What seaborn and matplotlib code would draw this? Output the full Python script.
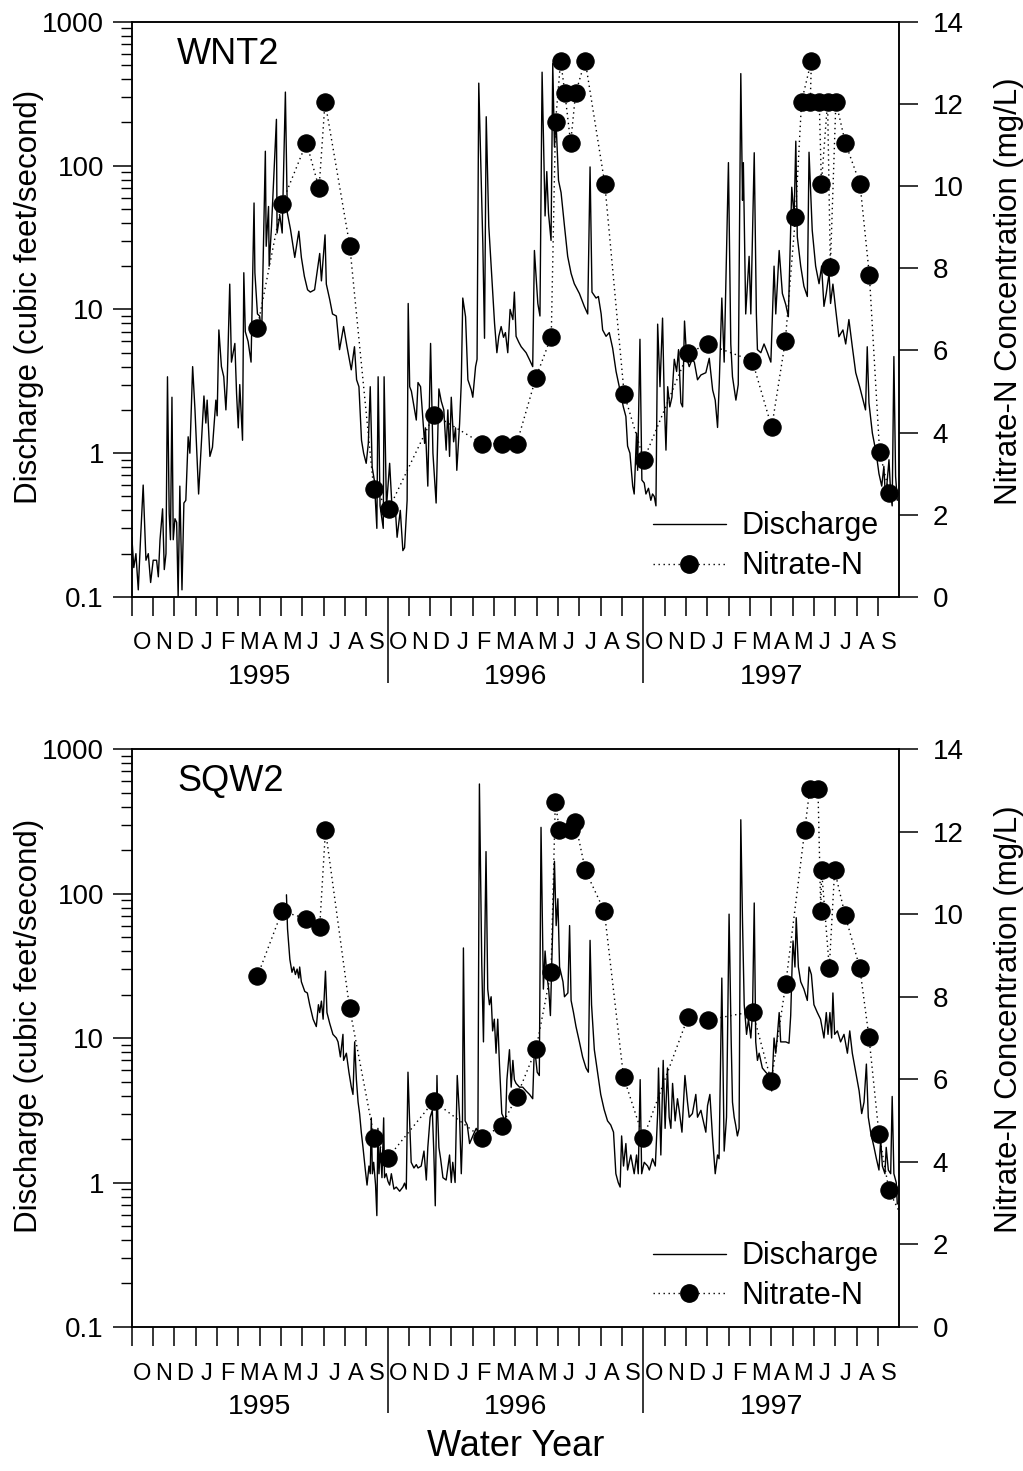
import matplotlib
matplotlib.use("Agg")
import numpy as np
import pandas as pd
import matplotlib.pyplot as plt
import seaborn as sns
from matplotlib.lines import Line2D
from matplotlib.ticker import LogLocator, NullFormatter, FixedLocator

# ---------------- data (x = months since 1 Oct 1994, start of WY1995) -------------
wnt2_q_month = [0.01,0.10,0.20,0.31,0.42,0.54,0.67,0.78,0.89,1.01,1.17,1.25,1.33,1.45,1.53,1.61,1.68,1.76,1.82,1.89,1.95,2.03,2.11,2.18,2.26,2.36,2.45,2.54,2.65,2.73,2.86,2.97,3.14,3.39,3.48,3.54,3.67,3.79,3.95,4.01,4.09,4.21,4.32,4.42,4.48,4.60,4.68,4.84,4.92,5.00,5.07,5.20,5.26,5.33,5.46,5.60,5.74,5.78,5.90,6.00,6.10,6.27,6.31,6.42,6.45,6.56,6.79,6.82,6.95,7.06,7.21,7.30,7.45,7.65,7.84,7.96,8.10,8.25,8.38,8.58,8.82,8.90,9.07,9.13,9.29,9.42,9.60,9.75,9.94,10.10,10.30,10.45,10.55,10.66,10.78,10.88,11.00,11.10,11.19,11.28,11.38,11.50,11.56,11.65,11.80,11.84,11.95,12.10,12.20,12.38,12.45,12.60,12.72,12.80,12.92,12.97,13.04,13.12,13.19,13.35,13.43,13.55,13.74,13.78,13.89,14.02,14.13,14.28,14.41,14.52,14.64,14.75,14.83,14.91,14.99,15.10,15.19,15.25,15.38,15.46,15.53,15.66,15.77,15.93,16.00,16.13,16.20,16.28,16.47,16.55,16.63,16.75,16.86,17.02,17.13,17.22,17.33,17.44,17.53,17.64,17.75,17.88,17.95,18.03,18.16,18.27,18.38,18.50,18.66,18.81,18.89,19.05,19.15,19.25,19.39,19.47,19.55,19.67,19.75,19.83,19.90,20.02,20.14,20.30,20.45,20.61,20.76,21.00,21.23,21.39,21.50,21.59,21.78,21.89,22.02,22.09,22.25,22.40,22.56,22.72,22.87,23.06,23.18,23.26,23.37,23.50,23.57,23.68,23.73,23.84,23.93,24.04,24.12,24.24,24.35,24.43,24.51,24.59,24.67,24.78,24.90,24.98,25.06,25.14,25.24,25.34,25.45,25.56,25.65,25.76,25.84,25.93,26.03,26.15,26.28,26.39,26.54,26.70,26.93,27.09,27.25,27.37,27.48,27.56,27.68,27.79,27.99,28.10,28.18,28.34,28.45,28.57,28.65,28.69,28.80,28.96,29.04,29.20,29.30,29.35,29.51,29.66,29.82,29.98,30.13,30.21,30.37,30.52,30.68,30.80,30.96,31.07,31.15,31.22,31.38,31.53,31.69,31.77,31.92,32.08,32.24,32.36,32.47,32.58,32.71,32.78,32.89,33.02,33.17,33.36,33.49,33.64,33.80,33.96,34.15,34.27,34.42,34.50,34.58,34.74,34.92,35.05,35.18,35.28,35.36,35.52,35.60,35.67,35.75,35.83,35.91]
wnt2_q_cfs = [0.26,0.16,0.20,0.112,0.26,0.60,0.18,0.20,0.126,0.18,0.18,0.138,0.25,0.41,0.155,0.20,3.4,0.38,0.25,2.45,0.25,0.35,0.33,0.10,0.59,0.112,0.45,0.47,1.3,1.0,4.0,2.0,0.52,2.5,1.62,2.34,0.95,1.1,2.34,1.82,7.2,4.0,3.4,2.0,3.1,15,4.3,5.8,2.6,1.5,3.0,1.23,18,7.0,6.0,4.3,55,18,9.3,9.0,7.0,126,27.5,52,20,38,210,34,45,34,325,47,36,23,35,23,17,13.7,13.2,13.7,24.5,15.8,33,15,11.7,9.3,9.0,5.25,7.6,5.5,3.8,5.5,3.24,2.9,1.23,1.0,0.85,1.17,2.9,0.8,0.65,0.30,3.4,0.43,0.30,3.4,0.42,0.85,0.45,0.38,0.26,0.40,0.21,0.22,0.47,11,2.9,2.7,2.34,1.7,3.1,2.9,1.17,1.5,0.59,5.8,1.0,0.45,2.8,2.3,2.0,1.05,2.0,0.95,2.45,1.2,1.5,0.76,1.6,3.1,12,8.9,3.24,2.75,2.45,4.0,4.5,375,28.8,6.3,219,38,20,8.0,5.0,6.5,7.6,6.4,6.9,5.0,10,8.5,13.2,6.5,5.9,5.5,5.25,5.0,4.47,4.0,25.7,11,9.0,447,44.7,91,46.8,30.2,513,135,209,79,65,38,23.4,17.8,15.1,12.9,10.5,9.3,98,13.2,12,12.3,9.3,7.2,6.5,6.9,5.37,3.7,2.9,2.1,1.8,1.12,1.0,0.59,0.52,1.38,0.76,6.2,0.65,0.62,0.52,0.57,0.47,0.52,0.50,0.43,7.9,2.9,8.7,2.34,1.05,2.9,2.1,2.45,4.5,3.7,5.25,2.24,2.1,8.3,4.6,4.0,4.47,4.3,3.24,3.5,3.63,4.57,2.75,2.34,1.51,3.1,12,4.3,105,5.75,3.4,2.34,3.0,437,57.5,105,9.3,23.4,9.3,123,9.3,5.25,5.0,5.75,5.0,4.3,20,9.3,25.7,12.9,10.8,8.9,70.8,44,148,32,20,14.5,12.3,124,35.5,20,15.1,20,10.5,13,17.8,11,15,10,6.46,7.2,5.75,8.5,5.5,3.63,2.88,2.45,2.0,5.5,2.24,1.38,1.0,0.72,0.59,0.81,0.47,0.9,0.52,0.43,4.7,0.69,0.47]

wnt2_n_month = [5.89,7.03,8.20,8.79,9.07,10.23,11.35,12.06,14.18,16.45,17.35,18.06,18.96,19.68,19.88,20.12,20.32,20.59,20.82,21.27,22.19,23.10,24.02,26.10,27.05,29.11,30.02,30.66,31.13,31.42,31.88,31.83,32.25,32.35,32.64,32.77,33.03,33.47,34.16,34.60,35.08,35.53]
wnt2_n_mgl = [6.54,9.56,11.06,9.95,12.06,8.55,2.64,2.14,4.44,3.73,3.73,3.73,5.34,6.34,11.56,13.06,12.26,11.05,12.26,13.06,10.06,4.94,3.34,5.95,6.15,5.75,4.13,6.24,9.24,12.06,13.06,12.06,12.06,10.06,12.06,8.04,12.06,11.06,10.06,7.84,3.54,2.54]

sqw2_q_month = [7.26,7.31,7.42,7.52,7.60,7.68,7.76,7.84,7.88,7.96,8.12,8.24,8.35,8.51,8.66,8.76,8.82,8.90,8.98,9.09,9.16,9.29,9.44,9.60,9.68,9.79,9.91,9.94,10.07,10.19,10.30,10.38,10.46,10.54,10.62,10.69,10.77,10.85,10.96,11.04,11.13,11.19,11.24,11.29,11.35,11.44,11.50,11.55,11.60,11.66,11.74,11.82,11.86,11.94,12.02,12.10,12.18,12.30,12.41,12.57,12.72,12.80,12.88,12.96,13.03,13.11,13.24,13.35,13.43,13.58,13.71,13.82,13.89,14.00,14.10,14.17,14.24,14.32,14.36,14.41,14.49,14.60,14.75,14.91,14.99,15.06,15.17,15.27,15.38,15.46,15.51,15.56,15.64,15.74,15.85,16.00,16.16,16.24,16.31,16.42,16.50,16.62,16.70,16.78,16.86,16.93,17.01,17.09,17.17,17.25,17.36,17.44,17.52,17.60,17.72,17.80,17.88,17.95,18.03,18.19,18.34,18.50,18.66,18.81,18.89,19.02,19.12,19.20,19.31,19.39,19.47,19.56,19.64,19.72,19.83,19.91,19.99,20.07,20.23,20.30,20.46,20.54,20.61,20.72,20.84,21.00,21.15,21.31,21.42,21.50,21.57,21.70,21.85,22.00,22.16,22.32,22.47,22.60,22.71,22.82,22.91,22.98,23.07,23.18,23.26,23.41,23.57,23.68,23.76,23.85,23.92,24.04,24.20,24.28,24.43,24.56,24.67,24.71,24.82,24.93,25.02,25.13,25.21,25.29,25.37,25.49,25.60,25.68,25.81,25.95,26.07,26.15,26.30,26.46,26.54,26.70,26.77,26.93,27.01,27.12,27.24,27.37,27.48,27.55,27.68,27.79,27.90,28.02,28.12,28.18,28.26,28.33,28.41,28.49,28.57,28.65,28.73,28.84,28.93,29.04,29.12,29.20,29.27,29.35,29.43,29.58,29.74,29.90,30.02,30.13,30.21,30.29,30.37,30.44,30.52,30.68,30.83,30.91,30.99,31.02,31.11,31.17,31.27,31.38,31.53,31.69,31.77,31.88,32.00,32.16,32.31,32.47,32.58,32.66,32.75,32.83,32.89,32.97,33.10,33.25,33.41,33.57,33.68,33.80,33.96,34.12,34.24,34.35,34.46,34.55,34.66,34.82,34.93,35.05,35.13,35.21,35.33,35.39,35.49,35.60,35.67,35.75,35.86,35.91]
sqw2_q_cfs = [98,57,35,28.5,31,27.5,30,26,31,24.5,21,20.5,17,13.5,12,17,15,18,13.5,29,15,12.6,10.6,10,9.4,7.4,10.6,7.0,7.85,5.8,4.6,4.07,9.4,5.15,3.6,3.0,2.23,1.75,1.22,0.96,1.3,1.15,2.8,1.15,1.38,0.96,0.59,2.37,1.15,1.75,1.08,2.8,1.08,1.15,1.02,0.96,1.15,0.9,0.93,0.87,0.93,0.99,0.9,5.8,2.83,1.38,1.26,1.33,1.26,1.3,1.65,1.04,1.75,2.83,3.16,1.65,0.69,5.5,2.83,1.75,1.46,1.08,1.04,1.55,1.0,1.38,1.0,5.5,2.83,1.15,1.98,42,2.67,2.5,1.86,2.1,2.37,2.23,573,33,9.4,195,21.8,17,19.3,11.2,13.5,7.85,13.5,6.6,3.0,2.83,2.23,5.15,8.3,4.57,7.0,5.15,4.85,4.57,4.57,4.3,4.07,3.8,8.85,5.8,5.5,287,21.8,40,27.5,21.8,14.3,40,167,60,92,31,24.5,19.3,20.5,60,18.2,15.1,12,9.4,7.4,6.2,5.8,47.4,17,8.3,5.8,4.07,3.2,2.67,2.5,2.23,1.15,1.0,0.93,2.1,1.3,1.86,1.22,1.55,1.15,1.55,1.15,5.15,1.15,1.38,1.3,1.22,1.46,1.3,3.0,6.2,1.55,7.0,2.37,6.2,2.83,2.37,4.85,2.67,3.8,3.16,2.23,5.5,3.6,2.83,3.0,4.07,2.83,3.16,2.83,2.23,3.4,4.07,2.1,1.15,1.55,1.46,26,1.65,2.83,72,9.4,3.6,2.83,2.5,2.1,2.37,324,64,17,10.6,13.5,10,15,86,9.4,7.0,7.85,6.2,5.8,5.5,4.3,10,7.85,10.6,15,9.4,9.4,9.4,9.2,14.3,37,47,31,68,31,24.5,21.8,18.2,31,27.5,17,15,13.5,10,15,10.6,15,10,20.5,10.6,11.2,9.4,10.6,7.85,11.2,7.85,5.8,4.3,3.0,3.6,6.6,2.83,2.23,1.75,1.46,1.22,1.98,1.3,1.15,1.75,1.22,1.15,3.94,1.15,1.0,0.71]

sqw2_n_month = [5.90,7.05,8.20,8.82,9.09,10.22,11.38,12.02,14.17,16.44,17.36,18.05,18.97,19.67,19.87,20.06,20.61,20.80,21.28,22.17,23.07,24.00,26.10,27.04,29.12,30.00,30.68,31.57,31.80,32.19,32.32,32.36,32.72,32.97,33.46,34.15,34.58,35.05,35.52,36.60]
sqw2_n_mgl = [8.50,10.07,9.89,9.69,12.04,7.73,4.58,4.10,5.47,4.58,4.88,5.57,6.74,8.61,12.72,12.04,12.04,12.24,11.06,10.07,6.06,4.58,7.52,7.44,7.64,5.95,8.32,12.04,13.02,13.02,10.08,11.06,8.70,11.06,9.98,8.70,7.03,4.67,3.31,2.15]

month_letters = ["O", "N", "D", "J", "F", "M", "A", "M", "J", "J", "A", "S"]
water_years = ["1995", "1996", "1997"]
decade_ticks = [0.1, 1, 10, 100, 1000]
decade_labels = ["0.1", "1", "10", "100", "1000"]
nitrate_ticks = [0, 2, 4, 6, 8, 10, 12, 14]

# ---------------- style -------------
sns.set_theme(style="ticks")
plt.rcParams["font.family"] = ["Liberation Sans", "DejaVu Sans"]
plt.rcParams["axes.edgecolor"] = "black"
plt.rcParams["xtick.color"] = "black"
plt.rcParams["ytick.color"] = "black"
plt.rcParams["text.color"] = "black"
plt.rcParams["axes.labelcolor"] = "black"

DOT = (0, (1.0, 2.6))

fig = plt.figure(figsize=(10.23, 14.71), dpi=100)
ax_top = fig.add_axes([0.1287, 0.5942, 0.7503, 0.3909])
ax_bot = fig.add_axes([0.1287, 0.0979, 0.7503, 0.3929])


def panel(ax, qm, qv, nm, nv, name):
    dq = pd.DataFrame({"month": qm, "discharge": qv})
    dn = pd.DataFrame({"month": nm, "nitrate": nv})
    sns.lineplot(data=dq, x="month", y="discharge", ax=ax, color="black",
                 linewidth=1.0, sort=False, estimator=None)
    ax.set_yscale("log")
    ax.set_ylim(0.1, 1000)
    ax.set_xlim(0, 36)
    ax2 = ax.twinx()
    sns.lineplot(data=dn, x="month", y="nitrate", ax=ax2, color="black",
                 linewidth=1.0, linestyle=DOT, marker="o", markersize=12.5,
                 markerfacecolor="black", markeredgecolor="black",
                 sort=False, estimator=None)
    ax2.set_ylim(0, 14)
    ax2.set_xlim(0, 36)

    for a in (ax, ax2):
        for s in a.spines.values():
            s.set_linewidth(1.1)
            s.set_color("black")

    # left log axis
    ax.yaxis.set_major_locator(FixedLocator(decade_ticks))
    ax.set_yticklabels(decade_labels)
    ax.yaxis.set_minor_locator(LogLocator(base=10, subs=np.arange(2, 10)))
    ax.yaxis.set_minor_formatter(NullFormatter())
    ax.tick_params(axis="y", which="major", direction="out", length=14, width=1.1,
                   labelsize=20, pad=6)
    ax.tick_params(axis="y", which="minor", direction="out", length=8, width=1.0)
    ax.set_ylabel("Discharge (cubic feet/second)", fontsize=22.5)
    ax.yaxis.set_label_coords(-0.114, 0.521)

    # right nitrate axis
    ax2.set_yticks(nitrate_ticks)
    ax2.set_yticklabels([str(t) for t in nitrate_ticks])
    ax2.tick_params(axis="y", which="major", direction="out", length=14, width=1.1,
                    labelsize=20, pad=10)
    ax2.set_ylabel("Nitrate-N Concentration (mg/L)", fontsize=22.5)
    ax2.yaxis.set_label_coords(1.124, 0.532)

    # x axis: month ticks, long water-year dividers
    ax.set_xticks([12, 24])
    ax.set_xticks([m for m in range(36) if m not in (12, 24)], minor=True)
    ax.xaxis.set_major_formatter(NullFormatter())
    ax.xaxis.set_minor_formatter(NullFormatter())
    ax.tick_params(axis="x", which="major", direction="out", length=62, width=1.1)
    ax.tick_params(axis="x", which="minor", direction="out", length=13.7, width=1.1)
    ax.set_xlabel("")
    ax2.tick_params(axis="x", which="both", length=0)

    for i in range(36):
        ax.annotate(month_letters[i % 12], xy=(i + 0.5, 0),
                    xycoords=("data", "axes fraction"), xytext=(0, -33.5),
                    textcoords="offset points", ha="center", va="center",
                    fontsize=17)
    for k, yr in enumerate(water_years):
        ax.annotate(yr, xy=(12 * k + 6, 0), xycoords=("data", "axes fraction"),
                    xytext=(0, -57.5), textcoords="offset points",
                    ha="center", va="center", fontsize=20.5)

    ax.text(0.059, 0.927, name, transform=ax.transAxes, fontsize=26,
            ha="left", va="baseline")

    handles = [Line2D([], [], color="black", linewidth=1.0),
               Line2D([], [], color="black", linewidth=1.0, linestyle=DOT,
                      marker="o", markersize=12.5)]
    ax2.legend(handles, ["Discharge", "Nitrate-N"], loc="center left",
               bbox_to_anchor=(0.679, 0.088), frameon=False, fontsize=22,
               handlelength=2.4, handletextpad=0.5, labelspacing=0.32,
               borderpad=0, borderaxespad=0, numpoints=1)
    return ax2


panel(ax_top, wnt2_q_month, wnt2_q_cfs, wnt2_n_month, wnt2_n_mgl, "WNT2")
panel(ax_bot, sqw2_q_month, sqw2_q_cfs, sqw2_n_month, sqw2_n_mgl, "SQW2")

ax_bot.annotate("Water Year", xy=(0.5, 0), xycoords="axes fraction",
                xytext=(0, -86), textcoords="offset points",
                ha="center", va="center", fontsize=26)

fig.savefig("out.png", dpi=100, facecolor="white")
